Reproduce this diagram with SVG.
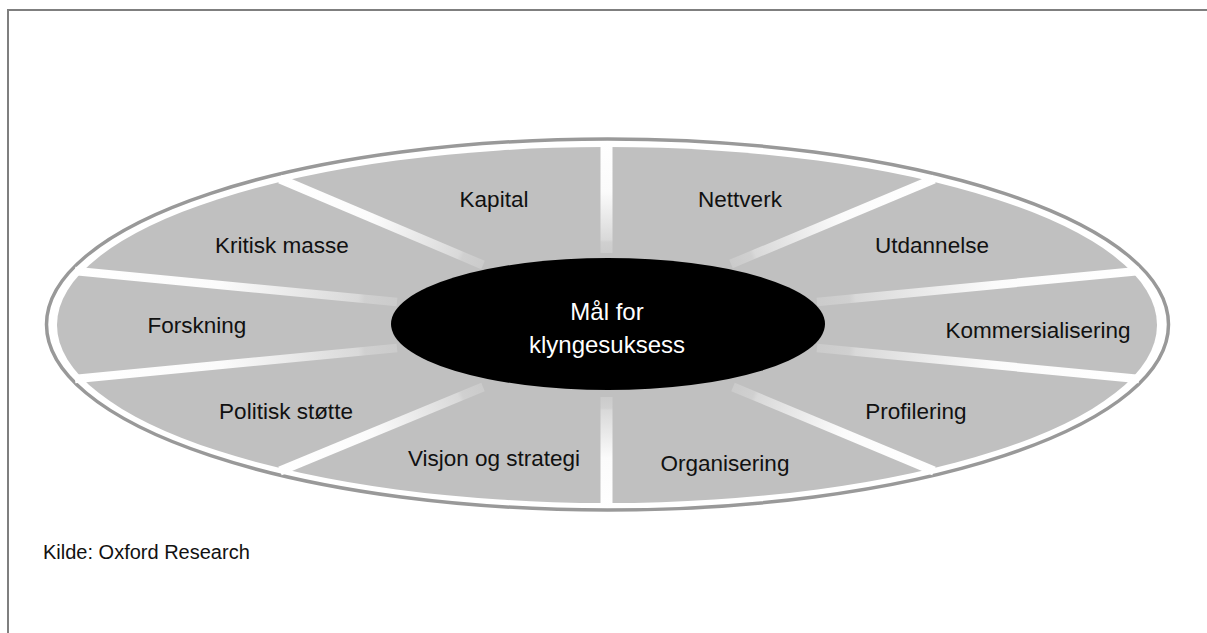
<svg xmlns="http://www.w3.org/2000/svg" xmlns:xlink="http://www.w3.org/1999/xlink" width="1207" height="633" viewBox="0 0 1207 633">
  <style>
    .frame { fill: none; stroke: #7f7f7f; stroke-width: 2; }
    .rim { fill: #ffffff; stroke: #999999; stroke-width: 3.5; }
    .seg { fill: #c0c0c0; }
    .hub { fill: #000000; }
    .spoke { fill: none; stroke-linecap: butt; }
    .lbl { font-family: "Liberation Sans", Arial, sans-serif; font-size: 22.5px; fill: #111111; text-anchor: middle; }
    .hubtxt { font-family: "Liberation Sans", Arial, sans-serif; font-size: 24px; fill: #ffffff; text-anchor: middle; }
    .src { font-family: "Liberation Sans", Arial, sans-serif; font-size: 20px; fill: #111111; }
  </style>
  <defs>
    <!-- shared colour ramp for the white dividers: bright at the rim, fading toward the hub -->
    <linearGradient id="spokeRamp">
      <stop offset="0" stop-color="#ffffff"/>
      <stop offset="0.45" stop-color="#fbfbfb"/>
      <stop offset="0.88" stop-color="#d9d9d9"/>
      <stop offset="0.9" stop-color="#d0d0d0"/>
      <stop offset="1" stop-color="#cbcbcb"/>
    </linearGradient>
    <linearGradient id="g1" xlink:href="#spokeRamp" gradientUnits="userSpaceOnUse" x1="606.5" y1="142" x2="606.5" y2="253"/>
    <linearGradient id="g2" xlink:href="#spokeRamp" gradientUnits="userSpaceOnUse" x1="606.5" y1="508" x2="606.5" y2="397"/>
    <linearGradient id="g3" xlink:href="#spokeRamp" gradientUnits="userSpaceOnUse" x1="280" y1="179" x2="483" y2="265"/>
    <linearGradient id="g4" xlink:href="#spokeRamp" gradientUnits="userSpaceOnUse" x1="75" y1="271" x2="397" y2="302"/>
    <linearGradient id="g5" xlink:href="#spokeRamp" gradientUnits="userSpaceOnUse" x1="75" y1="379" x2="397" y2="348"/>
    <linearGradient id="g6" xlink:href="#spokeRamp" gradientUnits="userSpaceOnUse" x1="280" y1="471" x2="483" y2="387"/>
    <linearGradient id="g7" xlink:href="#spokeRamp" gradientUnits="userSpaceOnUse" x1="934" y1="179" x2="731" y2="264"/>
    <linearGradient id="g8" xlink:href="#spokeRamp" gradientUnits="userSpaceOnUse" x1="1139" y1="271" x2="817" y2="302"/>
    <linearGradient id="g9" xlink:href="#spokeRamp" gradientUnits="userSpaceOnUse" x1="1139" y1="379" x2="817" y2="348"/>
    <linearGradient id="g10" xlink:href="#spokeRamp" gradientUnits="userSpaceOnUse" x1="934" y1="471" x2="733" y2="387"/>
  </defs>

  <!-- page frame (top and left edges) -->
  <path class="frame" d="M8 633 V10 H1207"/>

  <!-- outer rim and segment field -->
  <g id="wheel">
    <ellipse class="rim" cx="607.5" cy="324.5" rx="561" ry="185.5"/>
    <ellipse class="seg" cx="607" cy="325" rx="550" ry="178"/>
  </g>

  <!-- dividers between the segments -->
  <g id="connectors">
    <line class="spoke" x1="606.5" y1="142" x2="606.5" y2="253" stroke="url(#g1)" stroke-width="12"/>
    <line class="spoke" x1="606.5" y1="508" x2="606.5" y2="397" stroke="url(#g2)" stroke-width="12"/>
    <line class="spoke" x1="280" y1="179" x2="483" y2="265" stroke="url(#g3)" stroke-width="9"/>
    <line class="spoke" x1="75" y1="271" x2="397" y2="302" stroke="url(#g4)" stroke-width="8.5"/>
    <line class="spoke" x1="75" y1="379" x2="397" y2="348" stroke="url(#g5)" stroke-width="8.5"/>
    <line class="spoke" x1="280" y1="471" x2="483" y2="387" stroke="url(#g6)" stroke-width="9"/>
    <line class="spoke" x1="934" y1="179" x2="731" y2="264" stroke="url(#g7)" stroke-width="9"/>
    <line class="spoke" x1="1139" y1="271" x2="817" y2="302" stroke="url(#g8)" stroke-width="8.5"/>
    <line class="spoke" x1="1139" y1="379" x2="817" y2="348" stroke="url(#g9)" stroke-width="8.5"/>
    <line class="spoke" x1="934" y1="471" x2="733" y2="387" stroke="url(#g10)" stroke-width="9"/>
  </g>

  <!-- hub -->
  <g id="hub">
    <ellipse class="hub" cx="608" cy="324" rx="217" ry="66"/>
    <text class="hubtxt" x="607" y="320">Mål for</text>
    <text class="hubtxt" x="607" y="353">klyngesuksess</text>
  </g>

  <!-- segment labels -->
  <g id="seg-kapital"><text class="lbl" x="494" y="207">Kapital</text></g>
  <g id="seg-nettverk"><text class="lbl" x="740" y="207">Nettverk</text></g>
  <g id="seg-kritisk-masse"><text class="lbl" x="282" y="253">Kritisk masse</text></g>
  <g id="seg-utdannelse"><text class="lbl" x="932" y="253">Utdannelse</text></g>
  <g id="seg-forskning"><text class="lbl" x="197" y="333">Forskning</text></g>
  <g id="seg-kommersialisering"><text class="lbl" x="1038" y="338">Kommersialisering</text></g>
  <g id="seg-politisk-stotte"><text class="lbl" x="286" y="419">Politisk støtte</text></g>
  <g id="seg-profilering"><text class="lbl" x="916" y="419">Profilering</text></g>
  <g id="seg-visjon"><text class="lbl" x="494" y="466">Visjon og strategi</text></g>
  <g id="seg-organisering"><text class="lbl" x="725" y="471">Organisering</text></g>

  <!-- source note -->
  <text class="src" x="43" y="559">Kilde: Oxford Research</text>
</svg>
